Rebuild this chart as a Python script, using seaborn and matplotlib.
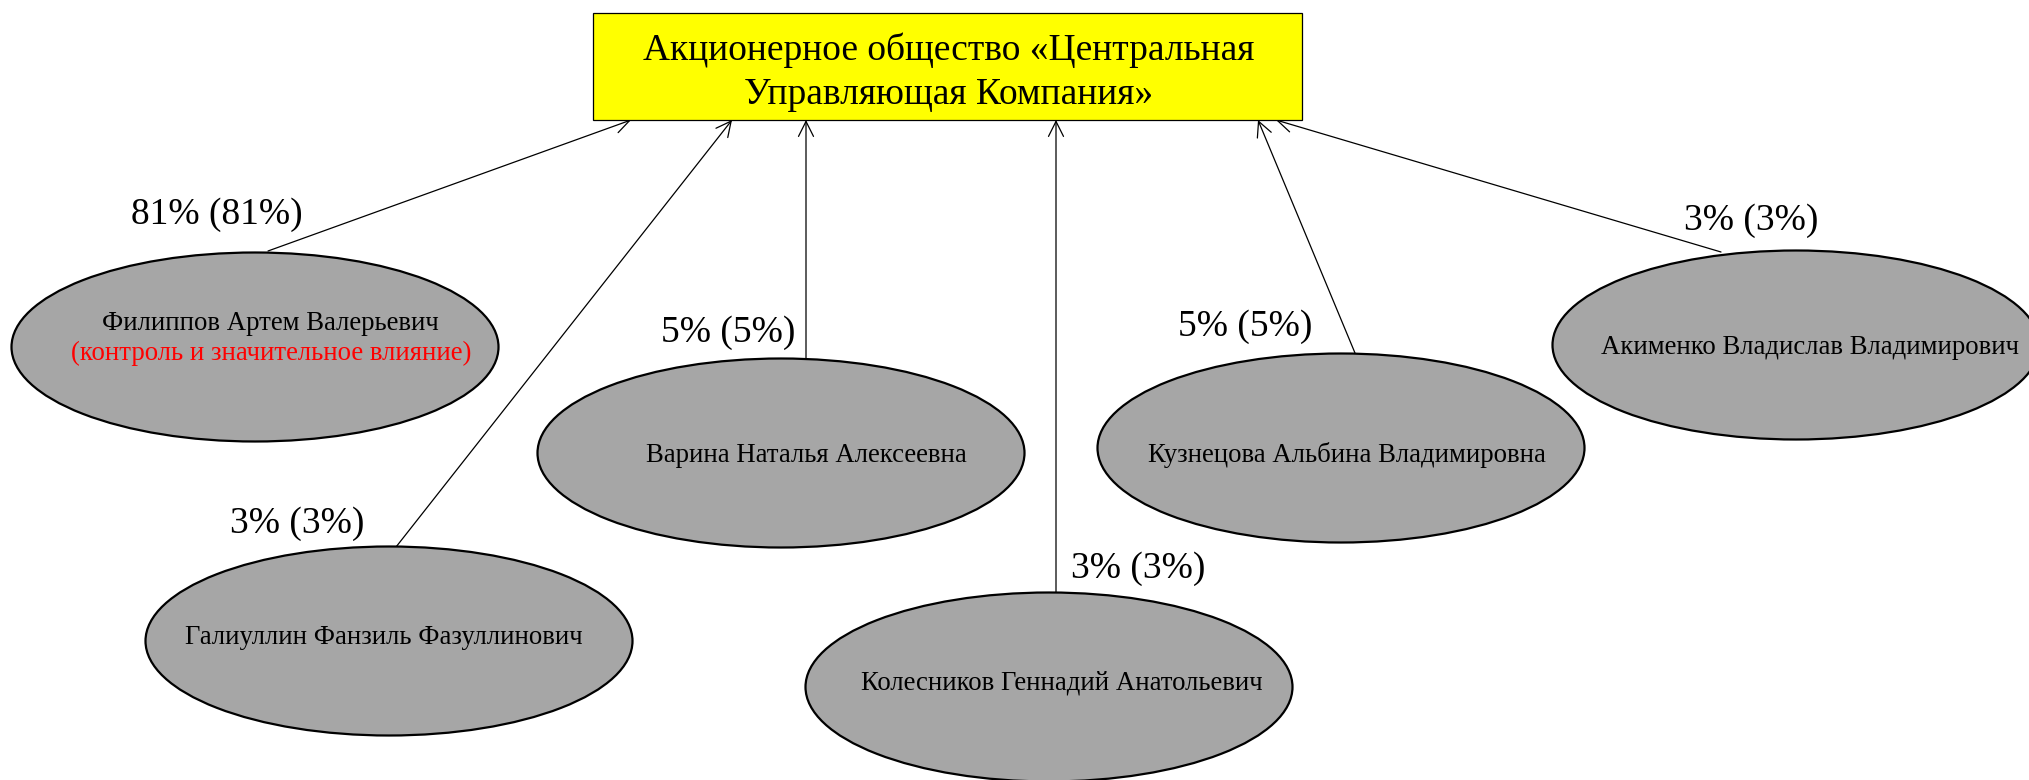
import matplotlib
matplotlib.use("Agg")
import matplotlib.pyplot as plt
from matplotlib.patches import Ellipse, Rectangle
import seaborn as sns

# data
company = "Акционерное общество «Центральная\nУправляющая Компания»"
owners = [
    "Филиппов Артем Валерьевич",
    "Галиуллин Фанзиль Фазуллинович",
    "Варина Наталья Алексеевна",
    "Колесников Геннадий Анатольевич",
    "Кузнецова Альбина Владимировна",
    "Акименко Владислав Владимирович",
]
shares = [81, 3, 5, 3, 5, 3]
note = "(контроль и значительное влияние)"

# layout (pixel coords, y down)
node_xy = [(255, 347), (389, 641), (781, 453), (1049, 687), (1341, 448), (1796, 345)]
node_wh = (487, 189)
name_xy = [(270, 323), (384, 638), (806, 455), (1062, 683), (1347, 455), (1810, 347)]
label_xy = [(217, 215), (297, 524), (728, 333), (1138, 569), (1245, 327), (1751, 221)]
arrow_from = [(268, 251), (396, 547), (806, 358), (1056, 594), (1355, 353), (1721, 252)]
arrow_to = [(631, 120), (732, 120), (806, 120), (1056, 120), (1258, 120), (1276, 120)]
box = (593, 13, 709, 107)

sns.set_theme(style="white")
plt.rcParams["font.family"] = ["Liberation Serif", "DejaVu Serif"]
plt.rcParams["text.color"] = "black"

fig = plt.figure(figsize=(20.29, 7.8), dpi=100)
ax = fig.add_axes([0, 0, 1, 1])
ax.set_xlim(0, 2029)
ax.set_ylim(780, 0)
ax.axis("off")

# company box
bx, by, bw, bh = box
ax.add_patch(Rectangle((bx, by), bw, bh, facecolor="#ffff00", edgecolor="black", lw=0.9, zorder=2))
ax.text(bx + bw / 2 + 1, by + bh / 2 + 6, company, ha="center", va="center",
        fontsize=27, linespacing=1.36, color="black", zorder=3)

# arrows
for (x0, y0), (x1, y1) in zip(arrow_from, arrow_to):
    ax.annotate("", xy=(x1, y1), xytext=(x0, y0),
                arrowprops=dict(arrowstyle="->", lw=0.9, color="black",
                                mutation_scale=27, shrinkA=0, shrinkB=0),
                zorder=1)

# owner ellipses
for i, (name, (cx, cy)) in enumerate(zip(owners, node_xy)):
    ax.add_patch(Ellipse((cx, cy), node_wh[0], node_wh[1], facecolor="#a6a6a6",
                         edgecolor="black", lw=1.6, zorder=2))
    nx, ny = name_xy[i]
    ax.text(nx, ny, name, ha="center", va="center", fontsize=19.3, color="black", zorder=3)
    if i == 0:
        ax.text(nx + 1, ny + 30, note, ha="center", va="center", fontsize=19.3,
                color="#ff0000", zorder=3)

# share labels
for s, (lx, ly) in zip(shares, label_xy):
    ax.text(lx, ly, f"{s}% ({s}%)", ha="center", va="center", fontsize=27,
            color="black", zorder=3)

fig.savefig("out.png", dpi=100)
